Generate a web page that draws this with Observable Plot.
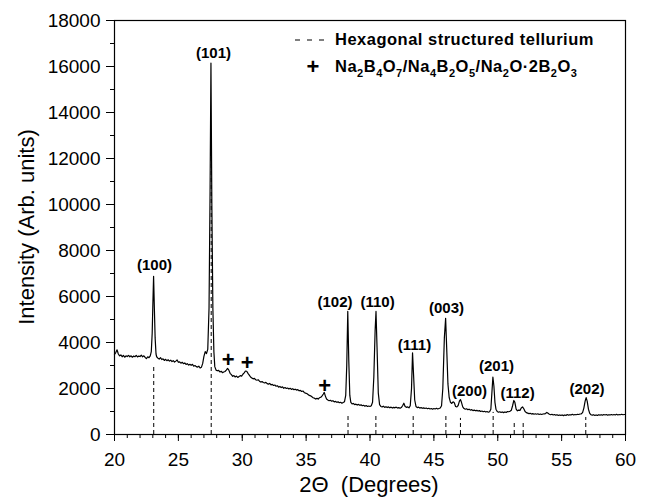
<!DOCTYPE html>
<html><head><meta charset="utf-8">
<script src="https://cdn.jsdelivr.net/npm/d3@7"></script>
<script src="https://cdn.jsdelivr.net/npm/@observablehq/plot@0.6"></script>
<style>body{margin:0;background:#fff}</style>
</head><body><div id="chart"></div>
<script>
// XRD pattern: [2θ (degrees), intensity (arb. units)]
const xrdPattern = [
[20.0,3480],[20.1,3560],[20.2,3680],[20.3,3500],[20.4,3420],[20.5,3460],[20.6,3380],[20.7,3440],[20.8,3360],[20.9,3420],
[21.0,3390],[21.1,3440],[21.2,3380],[21.3,3420],[21.4,3360],[21.5,3410],[21.6,3380],[21.7,3440],[21.8,3370],[21.9,3410],
[22.0,3390],[22.1,3450],[22.2,3380],[22.3,3420],[22.4,3350],[22.5,3300],[22.6,3380],[22.7,3340],[22.8,3420],[22.88,3600],
[22.95,4400],[23.0,5600],[23.06,6880],[23.12,5500],[23.18,4200],[23.25,3500],[23.3,3380],[23.4,3320],[23.5,3280],[23.6,3340],
[23.7,3260],[23.8,3290],[23.9,3220],[24.0,3270],[24.1,3210],[24.2,3250],[24.3,3190],[24.4,3230],[24.5,3170],[24.6,3210],
[24.7,3150],[24.8,3190],[24.9,3240],[25.0,3140],[25.1,3160],[25.2,3100],[25.3,3140],[25.4,3080],[25.5,3110],[25.6,3050],
[25.7,3080],[25.8,3020],[25.9,3050],[26.0,3010],[26.1,3050],[26.2,2970],[26.3,3000],[26.4,2950],[26.5,2930],[26.6,2970],
[26.7,2890],[26.8,2920],[26.9,3080],[27.0,3400],[27.1,3600],[27.2,3520],[27.3,3700],[27.4,5500],[27.48,10500],[27.55,16150],
[27.62,10000],[27.7,5500],[27.78,3600],[27.85,2950],[27.95,2800],[28.05,2770],[28.15,2790],[28.25,2720],[28.35,2750],[28.45,2690],
[28.55,2720],[28.65,2740],[28.75,2800],[28.85,2870],[28.95,2800],[29.05,2660],[29.15,2600],[29.25,2530],[29.35,2560],[29.45,2500],
[29.55,2540],[29.65,2480],[29.75,2520],[29.85,2560],[29.95,2540],[30.05,2620],[30.15,2680],[30.25,2760],[30.35,2750],[30.45,2660],
[30.55,2580],[30.65,2500],[30.75,2460],[30.85,2420],[30.95,2440],[31.05,2380],[31.15,2360],[31.25,2380],[31.35,2320],[31.45,2280],
[31.55,2300],[31.65,2260],[31.75,2240],[31.85,2270],[31.95,2210],[32.05,2190],[32.15,2220],[32.25,2160],[32.35,2180],[32.45,2130],
[32.55,2150],[32.65,2100],[32.75,2120],[32.85,2060],[32.95,2090],[33.05,2040],[33.15,2070],[33.25,2010],[33.35,2040],[33.45,2000],
[33.55,2020],[33.65,1980],[33.75,2010],[33.85,1960],[33.95,1990],[34.05,1950],[34.15,1970],[34.25,1930],[34.35,1950],[34.45,1900],
[34.55,1920],[34.65,1870],[34.75,1890],[34.85,1830],[34.95,1800],[35.05,1780],[35.15,1740],[35.25,1700],[35.35,1680],[35.45,1640],
[35.55,1600],[35.65,1580],[35.75,1540],[35.85,1570],[35.95,1540],[36.05,1600],[36.15,1620],[36.25,1680],[36.35,1760],[36.42,1830],
[36.5,1680],[36.6,1540],[36.7,1500],[36.8,1470],[36.9,1490],[37.0,1450],[37.1,1470],[37.2,1420],[37.3,1440],[37.4,1400],
[37.5,1420],[37.6,1380],[37.7,1400],[37.8,1360],[37.9,1390],[38.0,1420],[38.1,1700],[38.18,3000],[38.26,5350],[38.34,3200],
[38.42,1700],[38.5,1400],[38.6,1330],[38.7,1350],[38.8,1300],[38.9,1320],[39.0,1280],[39.1,1310],[39.2,1270],[39.3,1290],
[39.4,1250],[39.5,1270],[39.6,1230],[39.7,1260],[39.8,1220],[39.9,1240],[40.0,1220],[40.1,1250],[40.2,1400],[40.3,2500],
[40.4,4500],[40.47,5350],[40.55,3800],[40.65,1800],[40.75,1300],[40.85,1220],[40.95,1200],[41.05,1230],[41.15,1180],[41.25,1210],
[41.35,1170],[41.45,1200],[41.55,1160],[41.65,1190],[41.75,1150],[41.85,1180],[41.95,1160],[42.05,1190],[42.15,1150],[42.25,1170],
[42.35,1140],[42.45,1170],[42.55,1250],[42.65,1360],[42.75,1220],[42.85,1180],[42.95,1200],[43.05,1160],[43.15,1250],[43.25,2000],
[43.33,3550],[43.41,2600],[43.5,1500],[43.6,1220],[43.7,1170],[43.8,1190],[43.9,1150],[44.0,1170],[44.1,1140],[44.2,1160],
[44.3,1130],[44.4,1150],[44.5,1120],[44.6,1140],[44.7,1110],[44.8,1130],[44.9,1100],[45.0,1130],[45.1,1110],[45.2,1140],
[45.3,1110],[45.4,1130],[45.5,1150],[45.6,1250],[45.7,2000],[45.82,4200],[45.92,5050],[46.0,3800],[46.1,2200],[46.2,1600],
[46.3,1400],[46.4,1350],[46.5,1420],[46.6,1380],[46.7,1220],[46.8,1200],[46.9,1260],[47.0,1450],[47.08,1520],[47.16,1400],
[47.26,1200],[47.36,1130],[47.46,1100],[47.56,1120],[47.66,1080],[47.76,1100],[47.86,1060],[47.96,1080],[48.06,1040],[48.16,1060],
[48.26,1030],[48.36,1050],[48.46,1020],[48.56,1040],[48.66,1000],[48.76,1020],[48.86,990],[48.96,1010],[49.06,980],[49.16,1000],
[49.26,970],[49.36,990],[49.46,1100],[49.54,1800],[49.62,2500],[49.7,2100],[49.78,1400],[49.86,1100],[49.96,1000],[50.06,970],
[50.16,990],[50.26,960],[50.36,980],[50.46,950],[50.56,980],[50.66,960],[50.76,1000],[50.86,990],[50.96,1010],[51.06,1050],
[51.16,1250],[51.26,1480],[51.34,1400],[51.44,1100],[51.54,1030],[51.64,1060],[51.74,1050],[51.84,1150],[51.94,1200],[52.04,1120],
[52.14,1000],[52.24,950],[52.34,930],[52.44,910],[52.54,920],[52.64,890],[52.74,910],[52.84,880],[52.94,900],[53.04,880],
[53.14,900],[53.24,870],[53.34,890],[53.44,870],[53.54,890],[53.64,900],[53.74,910],[53.84,960],[53.94,920],[54.04,880],
[54.14,860],[54.24,880],[54.34,850],[54.44,870],[54.54,840],[54.64,860],[54.74,830],[54.84,850],[54.94,830],[55.04,850],
[55.14,820],[55.24,850],[55.34,830],[55.44,870],[55.54,840],[55.64,860],[55.74,850],[55.84,880],[55.94,850],[56.04,870],
[56.14,860],[56.24,880],[56.34,870],[56.44,890],[56.54,900],[56.64,950],[56.74,1150],[56.84,1450],[56.92,1600],[57.0,1450],
[57.1,1100],[57.2,920],[57.3,860],[57.4,840],[57.5,860],[57.6,830],[57.7,850],[57.8,830],[57.9,860],[58.0,840],
[58.1,860],[58.2,840],[58.3,870],[58.4,850],[58.5,870],[58.6,840],[58.7,860],[58.8,850],[58.9,870],[59.0,850],
[59.1,870],[59.2,850],[59.3,880],[59.4,850],[59.5,870],[59.6,860],[59.7,880],[59.8,860],[59.9,870],[60.0,870]
];

// Hexagonal tellurium reference peaks (dashed lines)
const refPeakX   = [23.07, 27.57, 38.28, 40.46, 43.38, 45.94, 47.08, 49.64, 51.29, 51.99, 56.89];
const refPeakTop = [3000, 12500, 910, 910, 780, 910, 700, 960, 480, 480, 740];

// Miller-index labels
const hklLabels = ["(100)", "(101)", "(102)", "(110)", "(111)", "(003)", "(200)", "(201)", "(112)", "(202)"];
const hklLabelX = [23.13, 27.75, 37.26, 40.59, 43.48, 45.99, 47.79, 49.90, 51.55, 56.99];
const hklLabelY = [7350, 16560, 5740, 5740, 3870, 5480, 1870, 2960, 1780, 1960];

// borate phase markers (+)
const borateX = [28.9, 30.39, 36.46];
const borateY = [3250, 3100, 2130];

const xTicks = [20, 25, 30, 35, 40, 45, 50, 55, 60];
const xMinorTicks = d3.range(20, 61, 1);
const yTicks = [0, 2000, 4000, 6000, 8000, 10000, 12000, 14000, 16000, 18000];
const yMinorTicks = d3.range(0, 18001, 1000);

const idx = refPeakX.map((_, i) => i);
const hIdx = hklLabels.map((_, i) => i);
const bIdx = borateX.map((_, i) => i);

const font = "'Liberation Sans', Arial, Helvetica, sans-serif";

const chart = Plot.plot({
  width: 646, height: 500,
  marginLeft: 114, marginRight: 21, marginTop: 20, marginBottom: 66,
  style: {fontFamily: font, fontSize: "19px", background: "white", color: "black"},
  x: {domain: [20, 60]},
  y: {domain: [0, 18000]},
  marks: [
    Plot.ruleX(idx, {x: i => refPeakX[i], y1: 0, y2: i => refPeakTop[i], stroke: "black", strokeWidth: 1, strokeDasharray: "4,3"}),
    Plot.line(xrdPattern, {x: d => d[0], y: d => d[1], stroke: "black", strokeWidth: 1.2}),
    Plot.text(hIdx, {x: i => hklLabelX[i], y: i => hklLabelY[i], text: i => hklLabels[i], fontWeight: "bold", fontSize: 15}),
    Plot.text(bIdx, {x: i => borateX[i], y: i => borateY[i], text: () => "+", fontWeight: "bold", fontSize: 22}),
    Plot.axisX({ticks: xMinorTicks, tickSize: 4, tickFormat: () => "", label: null}),
    Plot.axisX({ticks: xTicks, tickSize: 7, tickPadding: 11, tickFormat: d => String(d), label: null}),
    Plot.axisY({ticks: yMinorTicks, tickSize: 4, tickFormat: () => "", label: null}),
    Plot.axisY({ticks: yTicks, tickSize: 8, tickPadding: 6, tickFormat: d => String(d), label: null}),
    Plot.frame({stroke: "black", strokeWidth: 1.2})
  ]
});

document.getElementById("chart").appendChild(chart);

const svg = d3.select(chart);
// axis titles
svg.append("text")
  .attr("transform", "translate(34,227) rotate(-90)")
  .attr("text-anchor", "middle")
  .style("font-family", font).style("font-size", "22px").attr("fill", "black")
  .text("Intensity (Arb. units)");
svg.append("text")
  .attr("x", 369).attr("y", 492)
  .attr("text-anchor", "middle")
  .style("font-family", font).style("font-size", "22px").attr("fill", "black")
  .style("white-space", "pre")
  .text("2\u0398\u00a0\u00a0(Degrees)");

// legend
const lg = svg.append("g").style("font-family", font).attr("fill", "black").attr("text-anchor", "start");
lg.append("line").attr("x1", 295).attr("x2", 326).attr("y1", 40).attr("y2", 40)
  .attr("stroke", "black").attr("stroke-width", 1.2).attr("stroke-dasharray", "5,7");
lg.append("text").attr("x", 335).attr("y", 45).attr("text-anchor", "start")
  .style("font-size", "16.5px").style("font-weight", "bold").style("letter-spacing", "0.5px")
  .text("Hexagonal structured tellurium");
lg.append("text").attr("x", 313).attr("y", 74).attr("text-anchor", "middle")
  .style("font-size", "22px").style("font-weight", "bold").text("+");
const formula = [["Na",0],["2",1],["B",0],["4",1],["O",0],["7",1],["/Na",0],["4",1],["B",0],["2",1],["O",0],["5",1],
                 ["/Na",0],["2",1],["O\u00b72B",0],["2",1],["O",0],["3",1]];
const ft = lg.append("text").attr("x", 335).attr("y", 72).attr("text-anchor", "start")
  .style("font-size", "16.5px").style("font-weight", "bold").style("letter-spacing", "0.5px");
let prevSub = false;
formula.forEach(([s, sub]) => {
  const t = ft.append("tspan").text(s);
  if (sub && !prevSub) t.attr("dy", 5).style("font-size", "11px");
  else if (!sub && prevSub) t.attr("dy", -5);
  else if (sub) t.style("font-size", "11px");
  prevSub = !!sub;
});
</script>
</body></html>
